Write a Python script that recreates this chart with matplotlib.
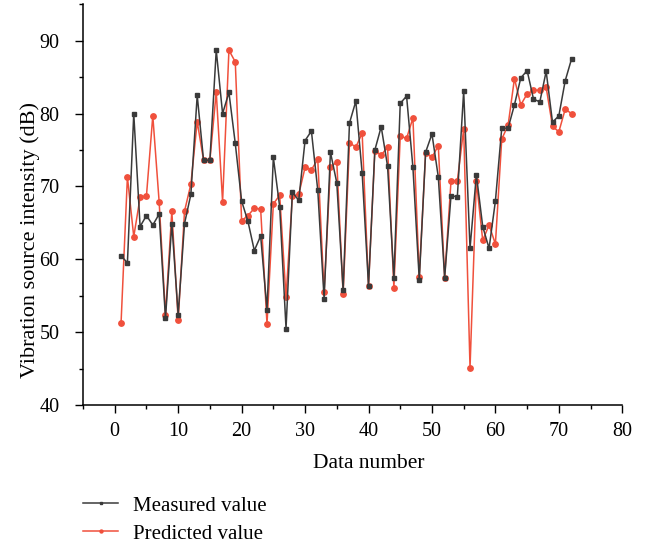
import numpy as np
import matplotlib
matplotlib.use("Agg")
import matplotlib.pyplot as plt
from matplotlib.ticker import MultipleLocator

# --- DATA ---
data_number = list(range(1, 73))

measured = [
    60.5, 59.5, 80.0, 64.5, 66.0, 64.7, 66.2, 51.9, 64.9, 52.4,
    64.9, 68.9, 82.5, 73.6, 73.6, 88.7, 80.0, 82.9, 75.9, 68.0,
    65.2, 61.2, 63.2, 53.1, 74.0, 67.2, 50.5, 69.2, 68.1, 76.3,
    77.6, 69.5, 54.6, 74.7, 70.5, 55.8, 78.7, 81.7, 71.8, 56.4,
    75.0, 78.2, 72.8, 57.4, 81.4, 82.4, 72.6, 57.2, 74.7, 77.2,
    71.3, 57.5, 68.7, 68.6, 83.1, 61.5, 71.6, 64.5, 61.5, 68.0,
    78.0, 78.0, 81.2, 84.9, 85.9, 82.0, 81.6, 85.8, 78.8, 79.7,
    84.5, 87.5,
]

predicted = [
    51.3, 71.3, 63.1, 68.5, 68.7, 79.7, 67.9, 52.4, 66.6, 51.6,
    66.6, 70.3, 78.9, 73.6, 73.6, 83.0, 67.9, 88.7, 87.1, 65.3,
    66.0, 67.0, 66.9, 51.1, 67.6, 68.8, 54.8, 68.7, 68.9, 72.6,
    72.3, 73.7, 55.5, 72.6, 73.4, 55.2, 76.0, 75.4, 77.3, 56.3,
    74.9, 74.3, 75.4, 56.1, 76.9, 76.6, 79.4, 57.6, 74.6, 74.0,
    75.6, 57.5, 70.7, 70.75, 77.9, 45.1, 70.75, 62.6, 64.7, 62.1,
    76.5, 78.4, 84.8, 81.2, 82.7, 83.2, 83.2, 83.6, 78.25, 77.5,
    80.6, 80.0,
]

MEAS_COLOR = "#3a3a3a"
PRED_COLOR = "#f0503c"
W, H = 646, 546

plt.rcParams['font.family'] = ['Liberation Serif', 'DejaVu Serif']
plt.rcParams['font.size'] = 14.5

fig = plt.figure(figsize=(W / 100, H / 100), dpi=100)
ax = fig.add_axes([83 / W, 1 - 405 / H, (622.3 - 83) / W, (405 - 4.3) / H])

ax.plot(data_number, measured, color=MEAS_COLOR, lw=1.1, marker='s', ms=3.4,
        mfc=MEAS_COLOR, mec=MEAS_COLOR, label='Measured value', zorder=3)
ax.plot(data_number, predicted, color=PRED_COLOR, lw=1.1, marker='o', ms=3.9,
        mfc=PRED_COLOR, mec=PRED_COLOR, label='Predicted value', zorder=2)

ax.set_xlim(-5, 80)
ax.set_ylim(40, 95)
ax.xaxis.set_major_locator(MultipleLocator(10))
ax.xaxis.set_minor_locator(MultipleLocator(5))
ax.set_yticks([40, 50, 60, 70, 80, 90])
ax.yaxis.set_minor_locator(MultipleLocator(5))

for side in ['top', 'right']:
    ax.spines[side].set_visible(False)
for side in ['left', 'bottom']:
    ax.spines[side].set_linewidth(1.1)

ax.tick_params(which='major', direction='out', length=6, width=1.0)
ax.tick_params(which='minor', direction='out', length=3, width=1.0)
ax.tick_params(axis='x', which='major', pad=6)
ax.tick_params(axis='y', which='major', pad=11)

# axis titles placed where the reference has them
fig.text(369 / W, 1 - 468 / H, "Data number", fontsize=15.5,
         ha='center', va='baseline')
fig.text(35 / W, 1 - 240 / H, "Vibration source intensity (dB)", fontsize=16,
         rotation=90, rotation_mode='anchor', ha='center', va='baseline')

fig.legend(loc='upper left', bbox_to_anchor=(83.3 / W, 1 - 496 / H),
           frameon=False, fontsize=15, handlelength=1.68, handletextpad=0.69,
           labelspacing=0.41, borderpad=0, borderaxespad=0, markerscale=0.55)

fig.savefig("out.png", dpi=100)
